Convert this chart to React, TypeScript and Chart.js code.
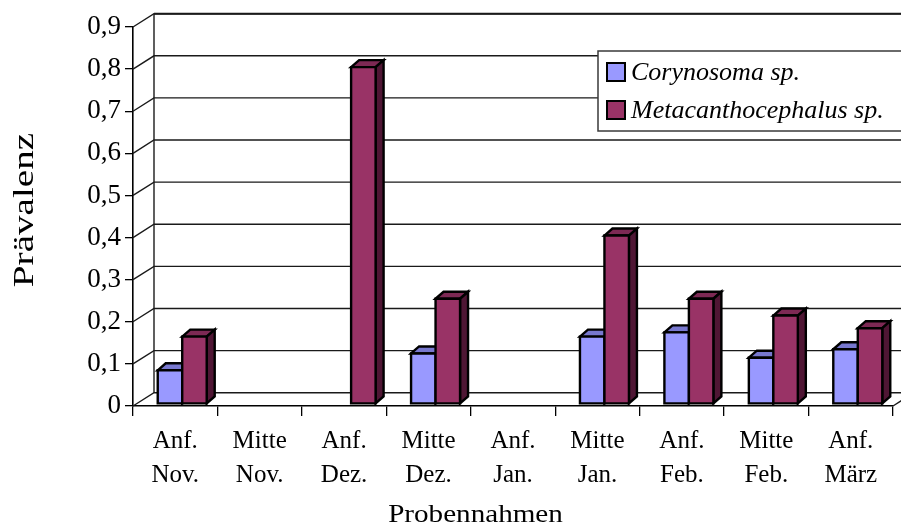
import { useEffect, useRef } from "react";
import { Chart, registerables } from "chart.js";

Chart.register(...registerables);

// ---------- data ----------
const categories: string[][] = [
  ["Anf.", "Nov."],
  ["Mitte", "Nov."],
  ["Anf.", "Dez."],
  ["Mitte", "Dez."],
  ["Anf.", "Jan."],
  ["Mitte", "Jan."],
  ["Anf.", "Feb."],
  ["Mitte", "Feb."],
  ["Anf.", "März"],
];
const corynosoma: (number | null)[] = [0.08, null, null, 0.12, null, 0.16, 0.17, 0.11, 0.13];
const metacanthocephalus: (number | null)[] = [0.16, null, 0.8, 0.25, null, 0.4, 0.25, 0.21, 0.18];
const seriesNames = ["Corynosoma sp.", "Metacanthocephalus sp."];
const yAxisTitle = "Prävalenz";
const xAxisTitle = "Probennahmen";

// ---------- style ----------
const W = 901;
const H = 527;
const FONT = '"Liberation Serif", "Times New Roman", serif';
const FACE = [
  { front: "#9999ff", top: "#7878cf", side: "#4c4c80" },
  { front: "#993366", top: "#7d2954", side: "#4f1634" },
];
const WALL_DX = 21;
const WALL_DY = -13.3;
const BAR_SHIFT_X = 7;
const BAR_SHIFT_Y = -2;
const BAR_DX = 8;
const BAR_DY = -7;

export default function App() {
  const ref = useRef<HTMLCanvasElement>(null);

  useEffect(() => {
    document.body.style.margin = "0";
    const canvas = ref.current!;

    const excel3d = {
      id: "excel3d",
      beforeDatasetsDraw(chart: any) {
        const ctx = chart.ctx as CanvasRenderingContext2D;
        const { left, right, top, bottom } = chart.chartArea;
        const ys = chart.scales.y;
        ctx.save();
        ctx.strokeStyle = "#1a1a1a";
        ctx.lineWidth = 1.4;
        for (const t of ys.ticks) {
          const py = ys.getPixelForValue(t.value);
          ctx.beginPath();
          ctx.moveTo(left, py);
          ctx.lineTo(left + WALL_DX, py + WALL_DY);
          ctx.lineTo(right + WALL_DX + 30, py + WALL_DY);
          ctx.stroke();
        }
        ctx.beginPath();
        ctx.moveTo(left + WALL_DX, top + WALL_DY);
        ctx.lineTo(left + WALL_DX, bottom + WALL_DY);
        ctx.stroke();
        ctx.beginPath();
        ctx.moveTo(right, bottom);
        ctx.lineTo(right + WALL_DX, bottom + WALL_DY);
        ctx.stroke();
        ctx.lineWidth = 2;
        ctx.beginPath();
        ctx.moveTo(left + WALL_DX, top + WALL_DY);
        ctx.lineTo(right + WALL_DX + 30, top + WALL_DY);
        ctx.stroke();
        ctx.restore();
        ctx.save();
        ctx.translate(BAR_SHIFT_X, BAR_SHIFT_Y);
      },
      afterDatasetsDraw(chart: any) {
        const ctx = chart.ctx as CanvasRenderingContext2D;
        ctx.restore();
        ctx.save();
        ctx.translate(BAR_SHIFT_X, BAR_SHIFT_Y);
        ctx.lineJoin = "miter";
        ctx.strokeStyle = "#000";
        ctx.lineWidth = 2.4;
        const n = chart.data.labels.length;
        for (let i = 0; i < n; i++) {
          for (let d = 0; d < chart.data.datasets.length; d++) {
            const v = chart.data.datasets[d].data[i];
            if (v === null || v === undefined) continue;
            const el = chart.getDatasetMeta(d).data[i];
            const p = el.getProps(["x", "y", "base", "width"], true);
            const L = p.x - p.width / 2;
            const R = p.x + p.width / 2;
            const T = p.y;
            const B = p.base;
            const f = FACE[d];
            // top face
            ctx.beginPath();
            ctx.moveTo(L, T);
            ctx.lineTo(L + BAR_DX, T + BAR_DY);
            ctx.lineTo(R + BAR_DX, T + BAR_DY);
            ctx.lineTo(R, T);
            ctx.closePath();
            ctx.fillStyle = f.top;
            ctx.fill();
            ctx.stroke();
            // side face
            ctx.beginPath();
            ctx.moveTo(R, T);
            ctx.lineTo(R + BAR_DX, T + BAR_DY);
            ctx.lineTo(R + BAR_DX, B + BAR_DY);
            ctx.lineTo(R, B);
            ctx.closePath();
            ctx.fillStyle = f.side;
            ctx.fill();
            ctx.stroke();
            // front face
            ctx.beginPath();
            ctx.rect(L, T, R - L, B - T);
            ctx.fillStyle = f.front;
            ctx.fill();
            ctx.stroke();
          }
        }
        ctx.restore();
      },
      afterDraw(chart: any) {
        const ctx = chart.ctx as CanvasRenderingContext2D;
        // legend
        ctx.save();
        const lx = 598, ly = 51, lw = 320, lh = 80;
        ctx.fillStyle = "#fff";
        ctx.fillRect(lx, ly, lw, lh);
        ctx.strokeStyle = "#3a3a3a";
        ctx.lineWidth = 1.5;
        ctx.strokeRect(lx, ly, lw, lh);
        chart.data.datasets.forEach((ds: any, d: number) => {
          const cy = ly + 21 + d * 38;
          ctx.fillStyle = FACE[d].front;
          ctx.fillRect(607, cy - 9, 18, 18);
          ctx.strokeStyle = "#000";
          ctx.lineWidth = 2;
          ctx.strokeRect(607, cy - 9, 18, 18);
          ctx.fillStyle = "#000";
          ctx.font = `italic 26px ${FONT}`;
          ctx.textAlign = "left";
          ctx.textBaseline = "middle";
          ctx.fillText(ds.label, 631, cy + 1);
        });
        ctx.restore();

        // axis titles
        ctx.save();
        ctx.fillStyle = "#000";
        ctx.font = `29px ${FONT}`;
        ctx.textAlign = "center";
        ctx.textBaseline = "alphabetic";
        ctx.translate(33, 210);
        ctx.rotate(-Math.PI / 2);
        ctx.scale(1.35, 1);
        ctx.fillText(yAxisTitle, 0, 0);
        ctx.restore();

        ctx.save();
        ctx.fillStyle = "#000";
        ctx.font = `26px ${FONT}`;
        ctx.textAlign = "center";
        ctx.textBaseline = "alphabetic";
        ctx.translate(475.5, 522);
        ctx.scale(1.12, 1);
        ctx.fillText(xAxisTitle, 0, 0);
        ctx.restore();
      },
    };

    const chart = new Chart(canvas, {
      type: "bar",
      data: {
        labels: categories,
        datasets: [
          {
            label: seriesNames[0],
            data: corynosoma,
            backgroundColor: FACE[0].front,
            borderColor: "#000",
            borderWidth: 2,
            categoryPercentage: 0.58,
            barPercentage: 1,
          },
          {
            label: seriesNames[1],
            data: metacanthocephalus,
            backgroundColor: FACE[1].front,
            borderColor: "#000",
            borderWidth: 2,
            categoryPercentage: 0.58,
            barPercentage: 1,
          },
        ],
      },
      options: {
        animation: false,
        responsive: false,
        maintainAspectRatio: false,
        devicePixelRatio: 1,
        layout: { padding: { top: 27, right: 8, left: 0, bottom: 0 } },
        plugins: {
          legend: { display: false },
          tooltip: { enabled: false },
          title: { display: false },
        },
        scales: {
          x: {
            grid: {
              offset: true,
              drawOnChartArea: false,
              drawTicks: true,
              tickLength: 10,
              color: "#000",
              lineWidth: 1.3,
            },
            border: { display: true, color: "#000", width: 1.6 },
            ticks: {
              color: "#000",
              font: { family: FONT, size: 25, lineHeight: 1.375 },
              padding: 8,
              maxRotation: 0,
              minRotation: 0,
              autoSkip: false,
            },
            afterFit(scale: any) {
              scale.height = 121;
            },
          },
          y: {
            min: 0,
            max: 0.9,
            ticks: {
              stepSize: 0.1,
              color: "#000",
              font: { family: FONT, size: 27 },
              padding: 4,
              callback: (v: any) => {
                const r = Math.round(Number(v) * 10) / 10;
                return r === 0 ? "0" : r.toFixed(1).replace(".", ",");
              },
            },
            grid: {
              drawOnChartArea: false,
              drawTicks: true,
              tickLength: 8,
              color: "#000",
              lineWidth: 1.3,
            },
            border: { display: true, color: "#000", width: 1.6 },
            afterFit(scale: any) {
              scale.width = 133;
            },
          },
        },
      },
      plugins: [excel3d],
    });

    return () => chart.destroy();
  }, []);

  return (
    <div style={{ width: W, height: H, background: "#fff" }}>
      <canvas ref={ref} width={W} height={H} style={{ display: "block", width: W, height: H }} />
    </div>
  );
}
